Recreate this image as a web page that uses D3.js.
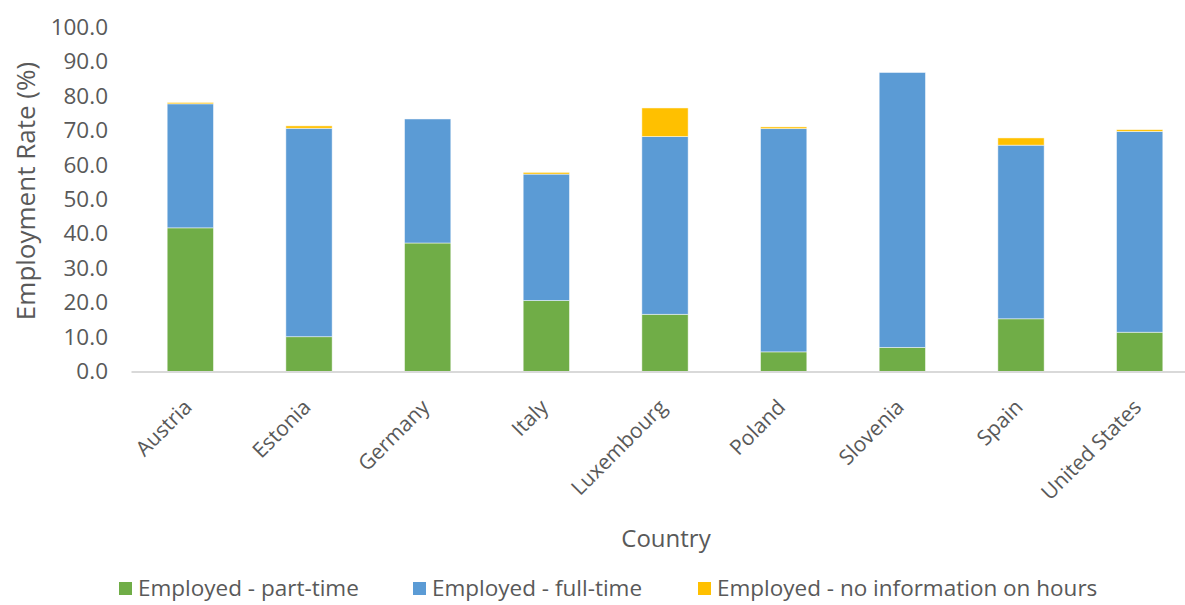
<!DOCTYPE html>
<html>
<head>
<meta charset="utf-8">
<script src="https://cdn.jsdelivr.net/npm/d3@7"></script>
<style>
  body { margin: 0; background: #fff; }
  text { font-family: "Open Sans", sans-serif; fill: #595959; }
</style>
</head>
<body>
<svg id="chart" width="1185" height="605"></svg>
<script>
// data
var countries = ["Austria", "Estonia", "Germany", "Italy", "Luxembourg", "Poland", "Slovenia", "Spain", "United States"];
var partTime = [41.7, 10.1, 37.3, 20.6, 16.6, 5.7, 7.0, 15.3, 11.4];
var fullTime = [36.0, 60.5, 36.0, 36.7, 51.6, 64.8, 79.8, 50.4, 58.3];
var noInfo = [0.4, 0.7, 0.0, 0.5, 8.3, 0.5, 0.0, 2.1, 0.5];
var seriesNames = ["Employed - part-time", "Employed - full-time", "Employed - no information on hours"];
var seriesColors = ["#70AD47", "#5B9BD5", "#FFC000"];
var yTicks = [0, 10, 20, 30, 40, 50, 60, 70, 80, 90, 100];

var svg = d3.select("#chart");

var x = d3.scaleBand()
  .domain(countries)
  .range([131, 1199])
  .paddingInner(0.61)
  .paddingOuter(0.305);

var y = d3.scaleLinear()
  .domain([0, 100])
  .range([371.5, 27]);

var rows = countries.map(function (c, i) {
  return { country: c, part: partTime[i], full: fullTime[i], none: noInfo[i] };
});
var stack = d3.stack().keys(["part", "full", "none"]);
var layers = stack(rows);

// y axis labels
var yAxis = svg.append("g")
  .attr("transform", "translate(108,0)")
  .call(d3.axisLeft(y).tickValues(yTicks).tickFormat(d3.format(".1f")).tickSize(0).tickPadding(0));
yAxis.select(".domain").remove();
yAxis.selectAll("text")
  .style("font-size", "22.5px")
  .style("fill", "#595959")
  .style("font-family", "Open Sans");

// bars
svg.append("g")
  .selectAll("g")
  .data(layers)
  .join("g")
  .attr("fill", function (d, i) { return seriesColors[i]; })
  .selectAll("rect")
  .data(function (d) { return d; })
  .join("rect")
  .attr("x", function (d) { return x(d.data.country); })
  .attr("width", x.bandwidth())
  .attr("y", function (d) { return y(d[1]); })
  .attr("height", function (d) { return Math.max(0, y(d[0]) - y(d[1])); })
  .attr("stroke", "#fff")
  .attr("stroke-opacity", 0.6)
  .attr("stroke-width", function (d) { return (d[1] - d[0]) > 0 ? 0.8 : 0; });

// x axis
var xAxis = svg.append("g")
  .attr("transform", "translate(0," + y(0) + ")")
  .call(d3.axisBottom(x).tickSize(0).tickPadding(0));
xAxis.select(".domain")
  .attr("stroke", "#D9D9D9")
  .attr("stroke-width", 2);
xAxis.selectAll("text")
  .style("font-size", "21px")
  .style("fill", "#595959")
  .style("font-family", "Open Sans")
  .attr("text-anchor", "end")
  .attr("dy", null)
  .attr("y", 0)
  .attr("transform", "translate(3,37) rotate(-45)");

// axis titles
svg.append("text")
  .attr("x", 666)
  .attr("y", 547)
  .attr("text-anchor", "middle")
  .style("font-size", "24px")
  .text("Country");

svg.append("text")
  .attr("transform", "translate(35,191) rotate(-90)")
  .attr("text-anchor", "middle")
  .style("font-size", "26px")
  .text("Employment Rate (%)");

// legend
var legendX = [119, 413, 698];
var legend = svg.append("g")
  .selectAll("g")
  .data(seriesNames)
  .join("g")
  .attr("transform", function (d, i) { return "translate(" + legendX[i] + ",582)"; });
legend.append("rect")
  .attr("width", 13)
  .attr("height", 13)
  .attr("fill", function (d, i) { return seriesColors[i]; });
legend.append("text")
  .attr("x", 19)
  .attr("y", 14)
  .style("font-size", "22.5px")
  .text(function (d) { return d; });
</script>
</body>
</html>
